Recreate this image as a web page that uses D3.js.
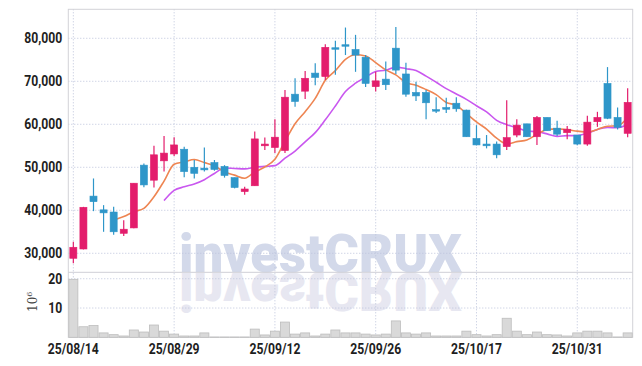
<!DOCTYPE html>
<html>
<head>
<meta charset="utf-8">
<script src="https://cdn.jsdelivr.net/npm/d3@7"></script>
<style>
  body { margin: 0; background: #fff; }
  svg { display: block; }
  .tick text { font-family: Roboto, "Liberation Sans", sans-serif; font-weight: bold; font-size: 14.5px; fill: #1e1e1e; }
  #wm { font-family: Roboto, "DejaVu Sans", sans-serif; font-weight: 900; font-size: 54px; }
</style>
</head>
<body>
<div id="chart"></div>
<script>
// trading days 2025-08-14 .. 2025-11-07
const dates = ["2025-08-14","2025-08-18","2025-08-19","2025-08-20","2025-08-21","2025-08-22","2025-08-25","2025-08-26","2025-08-27","2025-08-28",
  "2025-08-29","2025-09-01","2025-09-02","2025-09-03","2025-09-04","2025-09-05","2025-09-08","2025-09-09","2025-09-10","2025-09-11",
  "2025-09-12","2025-09-15","2025-09-16","2025-09-17","2025-09-18","2025-09-19","2025-09-22","2025-09-23","2025-09-24","2025-09-25",
  "2025-09-26","2025-09-29","2025-09-30","2025-10-01","2025-10-02","2025-10-10","2025-10-13","2025-10-14","2025-10-15","2025-10-16",
  "2025-10-17","2025-10-20","2025-10-21","2025-10-22","2025-10-23","2025-10-24","2025-10-27","2025-10-28","2025-10-29","2025-10-30",
  "2025-10-31","2025-11-03","2025-11-04","2025-11-05","2025-11-06","2025-11-07"];

const open  = [28840,31000,43300,40100,39600,34650,35900,50500,47000,51500, 53100,54200,50000,49800,51100,50200,47600,44350,45700,55000,
  54600,53900,67000,67700,71900,71100,77800,78500,77400,75600, 68750,70500,77700,71700,67400,67400,63400,63900,64900,63300,
  56700,55400,55400,54800,57500,60100,57100,61600,59100,58050, 57500,55400,60600,69500,61600,57900];
const high  = [32700,40800,47400,41200,40800,37700,46300,50900,55000,57300, 57000,54800,51700,54600,51700,50500,47600,45500,58300,56900,
  61200,68000,70700,72400,74200,78600,79400,82500,80800,76100, 72200,74600,82600,74300,69900,68000,66300,66200,66300,63400,
  59800,57500,56000,65600,61200,60100,61900,61600,60800,59600, 57500,62000,62900,73300,63900,68400];
const low   = [27700,30900,39800,35000,34300,34000,35800,45350,45300,49000, 52600,47700,47400,49000,49200,47600,45100,43600,45700,54000,
  53300,53300,64100,65900,69100,70300,71500,76100,72200,68700, 67600,68000,71700,66400,65400,61200,62600,62600,62900,57100,
  55100,54400,52100,54000,57000,57100,55200,58500,57300,56500, 55100,55000,59400,61200,58800,57000];
const close = [31400,40700,42000,39400,35000,35600,46300,45900,52900,53300, 55200,49000,48600,49400,49500,48100,45300,44950,56600,55400,
  57000,66300,65300,70700,70900,77900,77600,78400,76100,69500, 70100,69200,72600,67000,66600,65000,63300,63500,63600,57100,
  55200,55000,52900,56900,59800,57100,61600,58500,57700,58850, 55400,60500,61600,61400,59300,65100];
// volume in millions of shares
const volume = [19.8,3.6,4.0,1.5,0.9,0.45,2.5,1.8,4.2,2.1, 1.1,0.45,0.45,1.5,0.1,0.1,0.1,0.1,2.8,0.8,
  2.1,5.2,1.1,1.5,0.45,1.1,2.5,1.5,1.5,1.1, 0.8,1.1,5.6,1.5,1.1,1.5,0.45,0.45,0.45,2.1,
  0.9,0.45,0.9,6.5,2.1,0.9,1.8,0.9,0.8,0.45, 1.5,2.1,2.1,1.5,0.1,1.5];
const ma5 = [null,null,null,null,37700,38540,39660,40440,43140,46800, 50720,51260,51800,51100,50340,48920,48180,47450,48890,50070,
  51850,56050,60120,62940,66040,70220,72480,75100,76180,75900, 74340,72660,71500,69680,69100,68080,66900,65080,64400,62500,
  60540,58880,56760,55420,55960,56340,57660,58780,58940,58750, 58410,58190,58810,59550,59640,61580];
const ma10 = [null,null,null,null,null,null,null,null,null,42250, 44630,45460,46120,47120,48570,49820,49720,49625,49995,50205,
  50385,52115,53785,55915,58055,61035,64265,67610,69560,70970, 72280,72570,73300,72930,72500,71210,69780,68290,67040,65800,
  64310,62890,60920,59910,59230,58440,58270,57770,57180,57355, 57375,57925,58795,59245,59195,59995];

const priceTicks = [30000,40000,50000,60000,70000,80000];
const volTicks = [10,20];
const labelDates = ["2025-08-14","2025-08-29","2025-09-12","2025-09-26","2025-10-17","2025-10-31"];

const width = 642, height = 366;
const pLeft = 68.3, pRight = 632.7, pTop = 9.3, pSplit = 272.3, pBottom = 337.3;
const upColor = "#e31d6c", downColor = "#2e96c9";

const svg = d3.select("#chart").append("svg")
  .attr("width", width).attr("height", height);

const x = d3.scaleBand().domain(dates).range([pLeft, pRight]);
const y = d3.scaleLinear().domain([25580, 86740]).range([pSplit, pTop]);
const yv = d3.scaleLinear().domain([0, 22.2]).range([pBottom, pSplit]);
const cx = d => x(d) + x.bandwidth() / 2;

// watermark, reflection is a mirrored <use> of the same text
svg.append("defs").append("text").attr("id", "wm")
  .attr("x", 179).attr("y", 271.5)
  .attr("textLength", 283).attr("lengthAdjust", "spacingAndGlyphs")
  .text("investCRUX");
svg.append("use").attr("href", "#wm").attr("fill", "#d3d9ea");
svg.append("use").attr("href", "#wm").attr("fill", "#e7e7f1")
  .attr("transform", `translate(0,${2 * pSplit}) scale(1,-1)`);

// grid
const grid = svg.append("g").attr("stroke", "#bcc3da").attr("stroke-dasharray", "1,2").attr("stroke-width", 1);
grid.selectAll(".gy").data(priceTicks).join("line")
  .attr("x1", pLeft).attr("x2", pRight).attr("y1", d => y(d)).attr("y2", d => y(d));
grid.selectAll(".gv").data(volTicks).join("line")
  .attr("x1", pLeft).attr("x2", pRight).attr("y1", d => yv(d)).attr("y2", d => yv(d));
grid.selectAll(".gx").data(labelDates).join("line")
  .attr("x1", d => cx(d)).attr("x2", d => cx(d)).attr("y1", pTop).attr("y2", pBottom);

// frame
svg.append("rect").attr("x", pLeft).attr("y", pTop).attr("width", pRight - pLeft).attr("height", pBottom - pTop)
  .attr("fill", "none").attr("stroke", "#d2d2d8");
svg.append("line").attr("x1", pLeft).attr("x2", pRight).attr("y1", pSplit).attr("y2", pSplit)
  .attr("stroke", "#cfcfd6");

// volume bars
svg.append("g").selectAll("rect").data(dates).join("rect")
  .attr("x", d => x(d) + 0.5).attr("width", x.bandwidth() - 1)
  .attr("y", (d, i) => yv(volume[i])).attr("height", (d, i) => pBottom - yv(volume[i]))
  .attr("fill", "#d9d9d9").attr("stroke", "#bdbdbd").attr("stroke-width", 0.8);

// moving averages
const line = arr => d3.line()
  .defined((d, i) => arr[i] != null)
  .x(d => cx(d)).y((d, i) => y(arr[i]))
  .curve(d3.curveMonotoneX)(dates);
svg.append("path").attr("d", line(ma10)).attr("fill", "none").attr("stroke", "#c957ef").attr("stroke-width", 1.6);
svg.append("path").attr("d", line(ma5)).attr("fill", "none").attr("stroke", "#ee8552").attr("stroke-width", 1.6);

// candles
const bw = x.bandwidth() * 0.7;
const candle = svg.append("g").selectAll("g").data(dates).join("g")
  .attr("fill", (d, i) => close[i] >= open[i] ? upColor : downColor)
  .attr("stroke", (d, i) => close[i] >= open[i] ? upColor : downColor);
candle.append("line")
  .attr("x1", d => cx(d)).attr("x2", d => cx(d))
  .attr("y1", (d, i) => y(high[i])).attr("y2", (d, i) => y(low[i]))
  .attr("stroke-width", 1.2);
candle.append("rect")
  .attr("x", d => cx(d) - bw / 2).attr("width", bw)
  .attr("y", (d, i) => y(Math.max(open[i], close[i])))
  .attr("height", (d, i) => Math.max(1.5, Math.abs(y(open[i]) - y(close[i]))))
  .attr("stroke-width", 0.6);

// axes
const fmtDate = d => d.slice(2).replace(/-/g, "/");
const gy = svg.append("g").attr("transform", `translate(${pLeft},0)`)
  .call(d3.axisLeft(y).tickValues(priceTicks).tickFormat(d3.format(",")).tickSize(0).tickPadding(6));
gy.select(".domain").remove();
const gv = svg.append("g").attr("transform", `translate(${pLeft},0)`)
  .call(d3.axisLeft(yv).tickValues(volTicks).tickFormat(d3.format("d")).tickSize(0).tickPadding(6));
gv.select(".domain").remove();
const gx = svg.append("g").attr("transform", `translate(0,${pBottom})`)
  .call(d3.axisBottom(x).tickValues(labelDates).tickFormat(fmtDate).tickSize(0).tickPadding(6));
gx.select(".domain").remove();

// condensed look for tick labels
svg.selectAll(".tick text").each(function() {
  d3.select(this).attr("textLength", this.getComputedTextLength() * 0.84)
    .attr("lengthAdjust", "spacingAndGlyphs");
});

// volume unit
const unit = svg.append("text")
  .attr("transform", "translate(37,312) rotate(-90)")
  .style("font-family", "'DejaVu Serif', serif").style("font-size", "12px").attr("fill", "#444");
unit.append("tspan").text("10");
unit.append("tspan").attr("dy", -5).style("font-size", "8px").text("6");
</script>
</body>
</html>
